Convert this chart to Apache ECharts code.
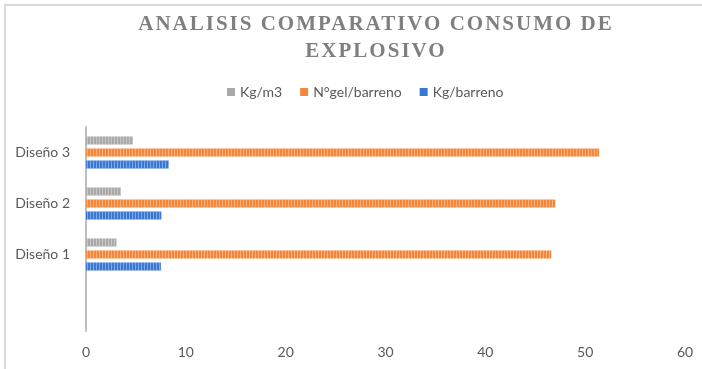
<!DOCTYPE html>
<html>
<head>
<meta charset="utf-8">
<script src="https://cdn.jsdelivr.net/npm/echarts@6/dist/echarts.min.js"></script>
<style>
html,body{margin:0;padding:0;background:#fff;}
#c{width:702px;height:369px;}
</style>
</head>
<body>
<div id="c"></div>
<script>
const titleText = 'ANALISIS COMPARATIVO CONSUMO DE\nEXPLOSIVO';
const categories = ['', 'Diseño 1', 'Diseño 2', 'Diseño 3'];
const kgBarreno = [null, 7.5, 7.55, 8.3];
const ngelBarreno = [null, 46.6, 47.0, 51.4];
const kgM3 = [null, 3.05, 3.5, 4.7];
const xTicks = { min: 0, max: 60, interval: 10 };

// letter-spaced serif title (canvas letterSpacing applied to the title font only)
(function () {
  const proto = CanvasRenderingContext2D.prototype;
  const orig = proto.fillText;
  proto.fillText = function (t, x, y, w) {
    if (this.font && this.font.indexOf('Liberation Serif') >= 0 && 'letterSpacing' in this) {
      const prev = this.letterSpacing;
      this.letterSpacing = '2px';
      const r = w === undefined ? orig.call(this, t, x, y) : orig.call(this, t, x, y, w);
      this.letterSpacing = prev;
      return r;
    }
    return w === undefined ? orig.call(this, t, x, y) : orig.call(this, t, x, y, w);
  };
})();

const chart = echarts.init(document.getElementById('c'), null, { renderer: 'canvas' });
const font = 'Lato, "Open Sans", sans-serif';
function stripes() {
  return { symbol: 'rect', symbolSize: 1, color: 'rgba(255,255,255,0.35)', dashArrayX: [1, 2], dashArrayY: [10, 0], rotation: 0 };
}
chart.setOption({
  animation: false,
  backgroundColor: '#ffffff',
  graphic: [{
    type: 'rect', silent: true, z: -1,
    shape: { x: 5, y: 5, width: 900, height: 600 },
    style: { fill: 'none', stroke: '#d9d9d9', lineWidth: 2 }
  }],
  title: {
    text: titleText,
    left: 371, top: 6, textAlign: 'center',
    textStyle: { fontFamily: '"Liberation Serif", "DejaVu Serif", serif', fontWeight: 'bold', fontSize: 21, color: '#7f7f7f', lineHeight: 27 }
  },
  legend: {
    top: 80, left: 222,
    data: ['Kg/m3', 'N°gel/barreno', 'Kg/barreno'],
    itemWidth: 8, itemHeight: 8, itemGap: 18, icon: 'rect',
    itemStyle: { decal: 'none' },
    textStyle: { fontFamily: font, fontSize: 14, color: '#595959' }
  },
  grid: { left: 86, right: 17, top: 127, bottom: 38, containLabel: false },
  xAxis: {
    type: 'value', min: xTicks.min, max: xTicks.max, interval: xTicks.interval,
    axisLine: { show: false }, axisTick: { show: false }, splitLine: { show: false },
    axisLabel: { margin: 14, fontFamily: font, fontSize: 14, color: '#595959' }
  },
  yAxis: {
    type: 'category', data: categories,
    axisLine: { show: true, lineStyle: { color: '#bfbfbf', width: 2 } },
    axisTick: { show: false },
    axisLabel: { margin: 16, fontFamily: font, fontSize: 14, color: '#595959' }
  },
  series: [
    { name: 'Kg/m3', type: 'bar', data: kgM3, barWidth: 8, barGap: '50%',
      itemStyle: { color: '#a9a9a9', decal: stripes() } },
    { name: 'N°gel/barreno', type: 'bar', data: ngelBarreno, barWidth: 8, barGap: '50%',
      itemStyle: { color: '#f5873a', decal: stripes() } },
    { name: 'Kg/barreno', type: 'bar', data: kgBarreno, barWidth: 8, barGap: '50%',
      itemStyle: { color: '#3a78d4', decal: stripes() } }
  ]
});
</script>
</body>
</html>
